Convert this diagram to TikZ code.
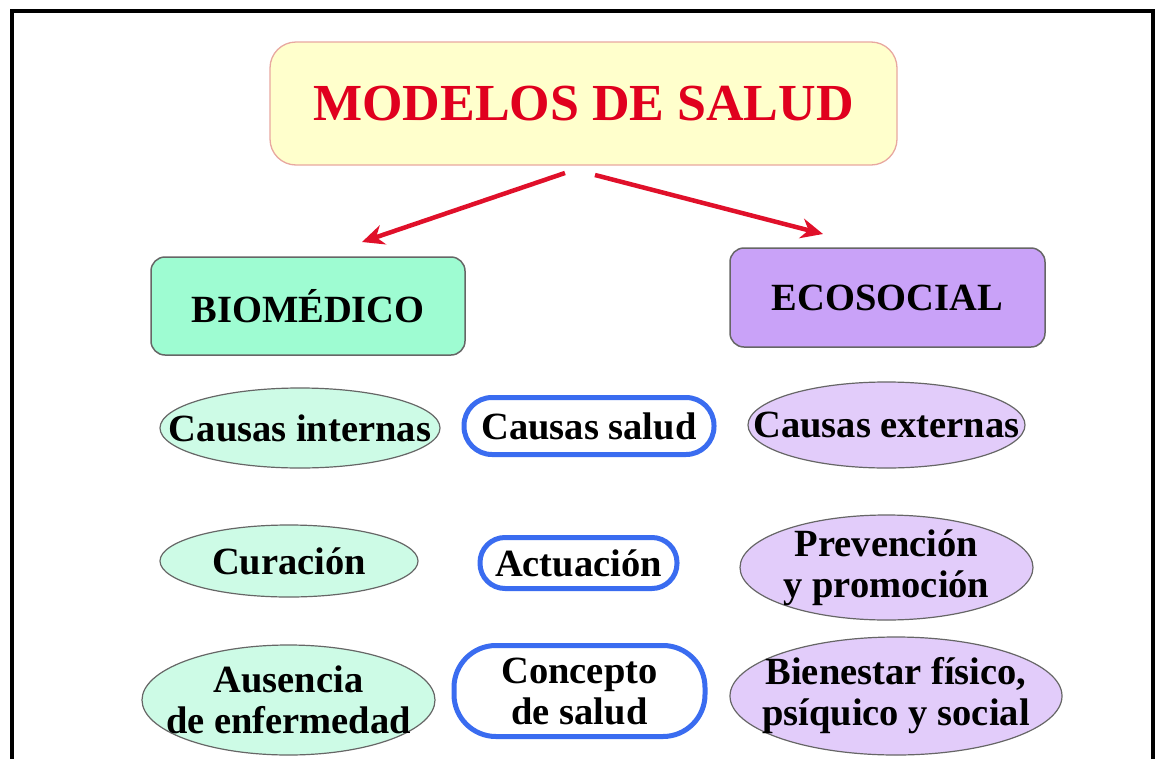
\documentclass[tikz,border=0pt]{standalone}
\usepackage{fontspec}
\setmainfont{Liberation Serif}
\usetikzlibrary{arrows.meta,shapes.geometric}
\definecolor{titlefill}{HTML}{FFFFCC}
\definecolor{titledraw}{HTML}{E8A8A0}
\definecolor{titletext}{HTML}{E0001E}
\definecolor{greenbox}{HTML}{9EFCD2}
\definecolor{greenell}{HTML}{CDFBE6}
\definecolor{purplebox}{HTML}{C9A2F8}
\definecolor{purpleell}{HTML}{E2CCFA}
\definecolor{bluedraw}{HTML}{3A6CF0}
\definecolor{arrowred}{HTML}{E0102A}
\tikzset{
  x=1pt,y=-1pt,
  txt/.style={font=\bfseries\fontsize{38.5}{41}\selectfont,align=center,text=black,inner sep=0pt},
  headbox/.style={txt,draw=gray!80!black,line width=1.5pt,rounded corners=14pt},
  ellbase/.style={txt,ellipse,draw=gray!80!black,line width=1.2pt,inner xsep=-120pt,inner ysep=-60pt},
  leftell/.style={ellbase,fill=greenell},
  rightell/.style={ellbase,fill=purpleell},
  midbox/.style={txt,draw=bluedraw,line width=5pt,fill=white},
  redarrow/.style={draw=arrowred,line width=4.5pt,-{Stealth[length=22pt,width=20pt]}}
}
\begin{document}
\begin{tikzpicture}
\useasboundingbox (0,0) rectangle (1157,758);
\fill[white] (0,0) rectangle (1157,758);
% frame
\draw[line width=4pt,line join=miter] (12,770) -- (12,11) -- (1153,11) -- (1153,770);
% title
\node[txt,draw=titledraw,fill=titlefill,line width=1.3pt,rounded corners=26pt,
      minimum width=627pt,minimum height=123pt,text=titletext,
      font=\bfseries\fontsize{52}{56}\selectfont] (title) at (583.5,103.5) {MODELOS DE SALUD};
% heads
\node[headbox,fill=greenbox,minimum width=314pt,minimum height=98pt] (bio) at (308,306) {BIOMÉDICO};
\node[headbox,fill=purplebox,minimum width=315pt,minimum height=99pt] (eco) at (887.5,297.5) {ECOSOCIAL};
% arrows
\coordinate (a1s) at (565,173);
\coordinate (a1e) at (362,242);
\coordinate (a2s) at (595,175);
\coordinate (a2e) at (823,234);
\draw[redarrow] (a1s) -- (a1e);
\draw[redarrow] (a2s) -- (a2e);
% left ellipses
\node[leftell,minimum width=280pt,minimum height=80pt] (ci) at (300,428) {Causas internas};
\node[leftell,minimum width=258pt,minimum height=72pt] (cu) at (289,561) {Curación};
\node[leftell,minimum width=293pt,minimum height=110pt] (au) at (288.5,700) {Ausencia\\de enfermedad};
% middle
\node[midbox,rounded corners=28pt,minimum width=250pt,minimum height=57pt] (cs) at (589,426) {Causas salud};
\node[midbox,rounded corners=25pt,minimum width=197pt,minimum height=51pt] (ac) at (578.5,563) {Actuación};
\node[midbox,rounded corners=42pt,minimum width=251pt,minimum height=91pt] (co) at (579.5,691) {Concepto\\de salud};
% right ellipses
\node[rightell,minimum width=277pt,minimum height=86pt] (ce) at (886.5,425) {Causas externas};
\node[rightell,minimum width=293pt,minimum height=105pt] (pp) at (886.5,567.5) {Prevención\\y promoción};
\node[rightell,minimum width=332pt,minimum height=118pt] (bf) at (896,696) {Bienestar físico,\\psíquico y social};
\end{tikzpicture}
\end{document}
